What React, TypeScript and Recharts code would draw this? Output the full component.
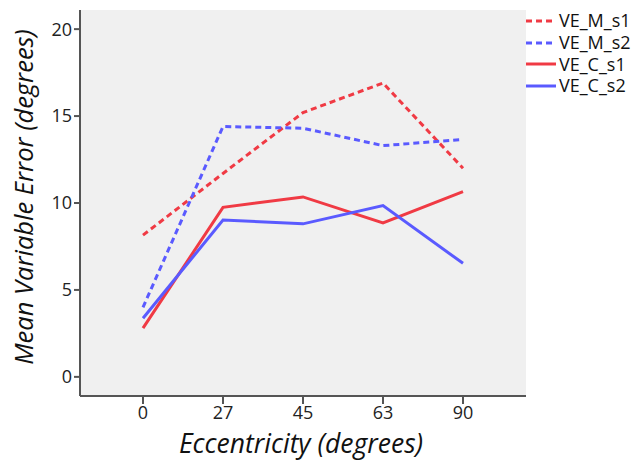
import React from 'react';
import {
  LineChart,
  Line,
  XAxis,
  YAxis,
  CartesianGrid,
  Legend,
  Label,
} from 'recharts';

// eccentricity categories (degrees)
const categories = ['0', '27', '45', '63', '90'];

// mean variable error per condition
const veMS1 = [8.15, 11.7, 15.2, 16.9, 12.0];
const veMS2 = [4.0, 14.4, 14.3, 13.3, 13.65];
const veCS1 = [2.8, 9.75, 10.35, 8.85, 10.65];
const veCS2 = [3.37, 9.02, 8.8, 9.85, 6.53];

const yTicks = [0, 5, 10, 15, 20];

const RED = '#F03A44';
const BLUE = '#5A5AFF';
const FONT = '"Open Sans", "DejaVu Sans", sans-serif';

const series = [
  { key: 'VE_M_s1', values: veMS1, color: RED, dash: '6 4' },
  { key: 'VE_M_s2', values: veMS2, color: BLUE, dash: '6 4' },
  { key: 'VE_C_s1', values: veCS1, color: RED, dash: undefined },
  { key: 'VE_C_s2', values: veCS2, color: BLUE, dash: undefined },
];

const data = categories.map((c, i) => {
  const row: Record<string, string | number> = { ecc: c };
  series.forEach((s) => {
    row[s.key] = s.values[i];
  });
  return row;
});

const LegendContent = () => (
  <div style={{ fontFamily: FONT, fontSize: 18, color: '#111' }}>
    {series.map((s) => (
      <div key={s.key} style={{ display: 'flex', alignItems: 'center', height: 21.7 }}>
        <svg width={31} height={6} style={{ marginRight: 2 }}>
          <line x1={0} y1={3} x2={30} y2={3} stroke={s.color} strokeWidth={3} strokeDasharray={s.dash} />
        </svg>
        <span style={{ lineHeight: '21px' }}>{s.key}</span>
      </div>
    ))}
  </div>
);

export default function App() {
  return (
    <div style={{ position: 'absolute', left: 0, top: 0, background: '#fff' }}>
      <LineChart
        width={635}
        height={462}
        data={data}
        margin={{ top: 10, right: 109, bottom: 0, left: 0 }}
      >
        <CartesianGrid horizontal={false} vertical={false} fill="#F0F0F0" />
        <XAxis
          dataKey="ecc"
          scale="point"
          padding={{ left: 63, right: 63 }}
          axisLine={{ stroke: '#555', strokeWidth: 2 }}
          tickLine={{ stroke: '#555', strokeWidth: 2 }}
          tickSize={8}
          tick={{ fill: '#222', fontSize: 18, fontFamily: FONT }}
          tickMargin={2}
          height={66}
        >
          <Label
            content={() => (
              <text
                x={301}
                y={453}
                textAnchor="middle"
                fontFamily={FONT}
                fontStyle="italic"
                fontSize={26.5}
                fill="#111"
              >
                Eccentricity (degrees)
              </text>
            )}
          />
        </XAxis>
        <XAxis xAxisId="top" orientation="top" dataKey="ecc" tick={false} tickLine={false} height={0} axisLine={{ stroke: '#999', strokeWidth: 2 }} />
        <YAxis
          domain={[-1.1, 21.1]}
          ticks={yTicks}
          width={80}
          axisLine={{ stroke: '#555', strokeWidth: 2 }}
          tickLine={{ stroke: '#555', strokeWidth: 2 }}
          tickSize={6}
          tick={{ fill: '#222', fontSize: 18, fontFamily: FONT }}
          tickMargin={2}
        >
          <Label
            content={() => (
              <text
                x={33}
                y={197}
                transform="rotate(-90 33 197)"
                textAnchor="middle"
                fontFamily={FONT}
                fontStyle="italic"
                fontSize={25.5}
                fill="#111"
              >
                Mean Variable Error (degrees)
              </text>
            )}
          />
        </YAxis>
        <YAxis yAxisId="right" orientation="right" domain={[-1.1, 21.1]} tick={false} tickLine={false} width={0} axisLine={{ stroke: '#999', strokeWidth: 2 }} />
        <Legend
          layout="vertical"
          verticalAlign="middle"
          align="center"
          content={<LegendContent />}
          wrapperStyle={{ position: 'absolute', left: 526, top: 10, width: 110 }}
        />
        {series.map((s) => (
          <Line
            key={s.key}
            dataKey={s.key}
            type="linear"
            stroke={s.color}
            strokeWidth={3}
            strokeDasharray={s.dash}
            dot={false}
            activeDot={false}
            isAnimationActive={false}
          />
        ))}
      </LineChart>
    </div>
  );
}
